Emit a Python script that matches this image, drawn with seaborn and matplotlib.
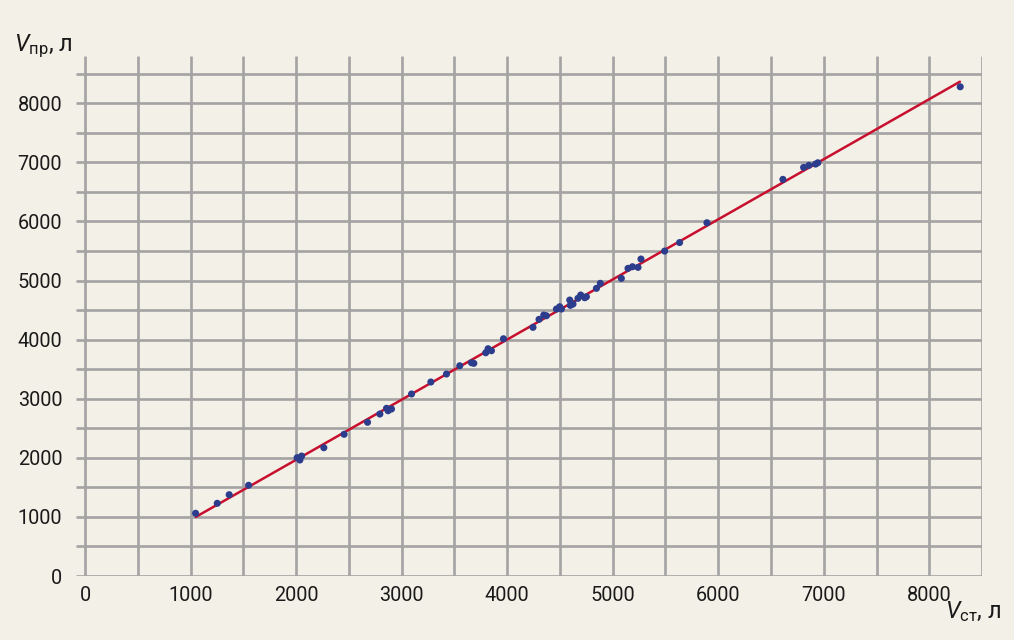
import numpy as np
import pandas as pd
import matplotlib
matplotlib.use("Agg")
import matplotlib.pyplot as plt
from matplotlib import font_manager
import seaborn as sns

# measured volumes (V_ст) vs computed volumes (V_пр), litres
v_st = [1048, 1253, 1366, 1550, 2010, 2052, 2036, 2263, 2455, 2677,
        2794, 2857, 2904, 2872, 3094, 3277, 3425, 3551, 3662, 3684,
        3797, 3819, 3851, 3965, 4245, 4302, 4347, 4372, 4467, 4498,
        4514, 4593, 4599, 4624, 4671, 4697, 4735, 4751, 4846, 4883,
        5082, 5145, 5187, 5240, 5268, 5492, 5634, 5893, 6613, 6809,
        6859, 6922, 6944, 8293]
v_pr = [1061, 1230, 1376, 1535, 2002, 2030, 1963, 2171, 2398, 2601,
        2741, 2838, 2826, 2797, 3080, 3283, 3418, 3558, 3609, 3599,
        3778, 3846, 3812, 4015, 4208, 4343, 4416, 4404, 4518, 4557,
        4518, 4670, 4580, 4602, 4699, 4755, 4709, 4726, 4868, 4953,
        5037, 5206, 5234, 5223, 5364, 5499, 5643, 5978, 6712, 6915,
        6949, 6971, 6993, 8279]

# fitted line ends
fit_x = [1050, 8290]
fit_y = [1000, 8365]

x_ticks = [0, 1000, 2000, 3000, 4000, 5000, 6000, 7000, 8000]
y_ticks = [0, 1000, 2000, 3000, 4000, 5000, 6000, 7000, 8000]

bg = "#f3f0e7"
grid_col = "#a3a3a3"

# pick a narrow font if one is there
names = set(f.name for f in font_manager.fontManager.ttflist)
font = "DejaVu Sans"
for cand in ["Liberation Sans Narrow", "DejaVu Sans Condensed", "Roboto"]:
    if cand in names:
        font = cand
        break

sns.set_style("white")
plt.rcParams['font.family'] = [font, 'DejaVu Sans']
if font == "DejaVu Sans Condensed":
    plt.rcParams['font.stretch'] = 'condensed'
plt.rcParams['mathtext.fontset'] = 'custom'
plt.rcParams['mathtext.it'] = font + ':italic'
plt.rcParams['mathtext.rm'] = font

tick_size = 15 if font == "Liberation Sans Narrow" else 14.3
lab_size = 19 if font == "Liberation Sans Narrow" else 17

df = pd.DataFrame({'v_st': v_st, 'v_pr': v_pr})
fit = pd.DataFrame({'x': fit_x, 'y': fit_y})

fig = plt.figure(figsize=(10.14, 6.4), dpi=100, facecolor=bg)
ax = fig.add_axes([0.075, 0.1, 0.8935, 0.8125])
ax.set_facecolor(bg)

# grid drawn by hand: horizontal lines stick out to the left like ticks
grid_lines = np.arange(0, 8501, 500)
ax.vlines(grid_lines, 0, 8800, color=grid_col, lw=1.9, zorder=1)
ax.hlines(grid_lines, -85, 8500, color=grid_col, lw=1.9, zorder=1)

sns.lineplot(data=fit, x='x', y='y', color="#c8102e", lw=1.8, ax=ax, zorder=3)
sns.scatterplot(data=df, x='v_st', y='v_pr', color="#2b3d8c", s=26,
                edgecolor="none", ax=ax, zorder=4)

ax.set_xlim(-85, 8500)
ax.set_ylim(0, 8800)
ax.set_xticks(x_ticks)
ax.set_yticks(y_ticks)
ax.tick_params(length=0, labelsize=tick_size, colors="#1a1a1a")
ax.tick_params(axis='y', pad=10)
ax.tick_params(axis='x', pad=7)
ax.set_xlabel("")
ax.set_ylabel("")
for s in ax.spines.values():
    s.set_visible(False)

fig.text(0.014, 0.92, r"$V_{\mathrm{пр}}$, л", fontsize=lab_size, color="#1a1a1a")
fig.text(0.987, 0.035, r"$V_{\mathrm{ст}}$, л", fontsize=lab_size,
         color="#1a1a1a", ha="right")

fig.savefig("out.png", dpi=100, facecolor=bg)
